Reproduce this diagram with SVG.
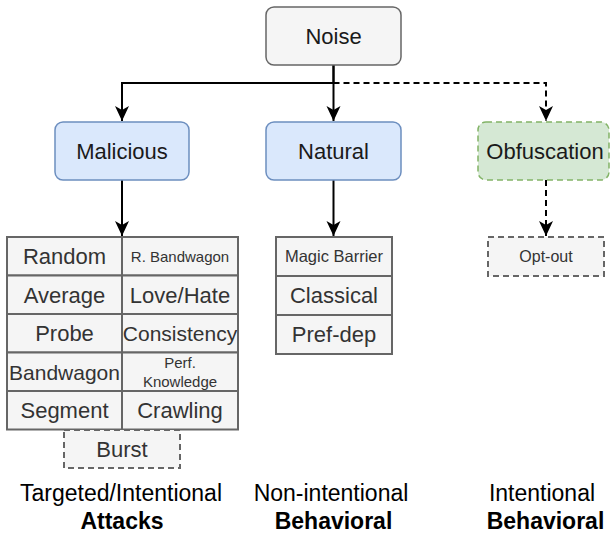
<svg xmlns="http://www.w3.org/2000/svg" width="610" height="533" viewBox="0 0 610 533">
  <style>
    text { font-family: "Liberation Sans", Arial, Helvetica, sans-serif; text-anchor: middle; }
    .node-gray { fill: #f5f5f5; stroke: #666666; stroke-width: 1.5; }
    .node-blue { fill: #dae8fc; stroke: #6c8ebf; stroke-width: 1.5; }
    .node-green { fill: #d5e8d4; stroke: #82b366; stroke-width: 1.5; stroke-dasharray: 6 4; }
    .cell { fill: #f5f5f5; stroke: #666666; stroke-width: 2; }
    .cell-dash { fill: #f5f5f5; stroke: #666666; stroke-width: 2; stroke-dasharray: 6 4; }
    .lbl { font-size: 22px; fill: #1a1a1a; }
    .cl { font-size: 22px; fill: #333333; }
    .wire { fill: none; stroke: #000000; stroke-width: 2; }
    .dash { stroke-dasharray: 6 4; }
    .cap { font-size: 23px; fill: #000000; }
    .bold { font-weight: bold; }
  </style>
  <defs>
    <marker id="head" viewBox="-16 -8 17 16" refX="0" refY="0" markerWidth="17" markerHeight="16" markerUnits="userSpaceOnUse" orient="auto">
      <path d="M0,0 L-15,-7 L-11,0 L-15,7 Z" fill="#000000"/>
    </marker>
  </defs>

  <!-- connectors -->
  <g id="connectors">
    <path class="wire" d="M333.5,65 V83 H122 V121" marker-end="url(#head)"/>
    <path class="wire" d="M333.5,65 V121" marker-end="url(#head)"/>
    <path class="wire dash" d="M333.5,83 H546 V121" marker-end="url(#head)"/>
    <path class="wire" d="M122,180 V236" marker-end="url(#head)"/>
    <path class="wire" d="M333.5,180 V236" marker-end="url(#head)"/>
    <path class="wire dash" d="M546,180 V236" marker-end="url(#head)"/>
  </g>

  <!-- top level -->
  <g id="noise">
    <rect class="node-gray" x="266" y="7" width="135" height="58" rx="8"/>
    <text class="lbl" x="333.5" y="44">Noise</text>
  </g>

  <g id="malicious">
    <rect class="node-blue" x="55" y="122" width="134" height="58" rx="8"/>
    <text class="lbl" x="122" y="159">Malicious</text>
  </g>

  <g id="natural">
    <rect class="node-blue" x="266" y="122" width="135" height="58" rx="8"/>
    <text class="lbl" x="333.5" y="159">Natural</text>
  </g>

  <g id="obfuscation">
    <rect class="node-green" x="478" y="122" width="131" height="58" rx="8"/>
    <text class="lbl" x="545" y="159">Obfuscation</text>
  </g>

  <!-- attack types -->
  <g id="attack-table">
    <rect class="cell" x="7" y="237" width="115" height="38.5"/>
    <rect class="cell" x="122" y="237" width="116" height="38.5"/>
    <rect class="cell" x="7" y="275.5" width="115" height="38.5"/>
    <rect class="cell" x="122" y="275.5" width="116" height="38.5"/>
    <rect class="cell" x="7" y="314" width="115" height="38.5"/>
    <rect class="cell" x="122" y="314" width="116" height="38.5"/>
    <rect class="cell" x="7" y="352.5" width="115" height="38.5"/>
    <rect class="cell" x="122" y="352.5" width="116" height="38.5"/>
    <rect class="cell" x="7" y="391" width="115" height="38.5"/>
    <rect class="cell" x="122" y="391" width="116" height="38.5"/>

    <text class="cl" x="64.5" y="264">Random</text>
    <text class="cl" x="180" y="262" style="font-size:15px">R. Bandwagon</text>
    <text class="cl" x="64.5" y="302.5">Average</text>
    <text class="cl" x="180" y="302.5">Love/Hate</text>
    <text class="cl" x="64.5" y="341">Probe</text>
    <text class="cl" x="180" y="341" style="font-size:21px">Consistency</text>
    <text class="cl" x="64.5" y="379.5" style="font-size:21px">Bandwagon</text>
    <text class="cl" x="180" y="368" style="font-size:15px">Perf.</text>
    <text class="cl" x="180" y="387" style="font-size:15px">Knowledge</text>
    <text class="cl" x="64.5" y="418">Segment</text>
    <text class="cl" x="180" y="418">Crawling</text>
  </g>

  <g id="burst">
    <rect class="cell-dash" x="64" y="430" width="116" height="38"/>
    <text class="cl" x="122" y="457">Burst</text>
  </g>

  <!-- natural noise types -->
  <g id="natural-table">
    <rect class="cell" x="276" y="237" width="116" height="39"/>
    <rect class="cell" x="276" y="276" width="116" height="39"/>
    <rect class="cell" x="276" y="315" width="116" height="39"/>
    <text class="cl" x="334" y="262" style="font-size:16.5px">Magic Barrier</text>
    <text class="cl" x="334" y="303">Classical</text>
    <text class="cl" x="334" y="342">Pref-dep</text>
  </g>

  <g id="opt-out">
    <rect class="cell-dash" x="488" y="237" width="116" height="39"/>
    <text class="cl" x="546" y="262" style="font-size:16px">Opt-out</text>
  </g>

  <!-- column captions -->
  <g id="captions">
    <text class="cap" x="121" y="501">Targeted/Intentional</text>
    <text class="cap bold" x="122" y="529">Attacks</text>
    <text class="cap" x="331" y="501">Non-intentional</text>
    <text class="cap bold" x="333.5" y="529">Behavioral</text>
    <text class="cap" x="542" y="501">Intentional</text>
    <text class="cap bold" x="545.5" y="529">Behavioral</text>
  </g>
</svg>
